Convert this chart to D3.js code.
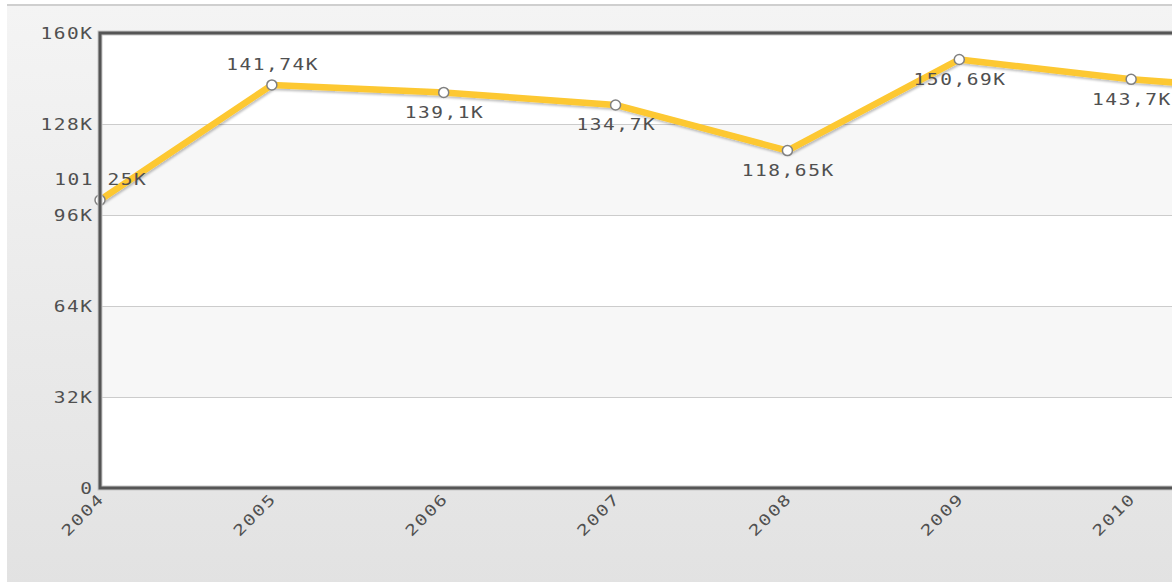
<!DOCTYPE html>
<html><head><meta charset="utf-8">
<script src="https://cdn.jsdelivr.net/npm/d3@7"></script>
<style>
html,body{margin:0;padding:0;background:#fff;overflow:hidden;}
svg{display:block;}
</style></head>
<body>
<svg id="chart" width="1172" height="582"></svg>
<script>
const years = ["2004","2005","2006","2007","2008","2009","2010","2011"];
const values = [101250, 141740, 139100, 134700, 118650, 150690, 143700, 139300];
const valueLabels = ["101,25K","141,74K","139,1K","134,7K","118,65K","150,69K","143,7K","139,3K"];
const yTicks = [0, 32000, 64000, 96000, 128000, 160000];
const yTickLabels = ["0","32K","64K","96K","128K","160K"];

const W = 1172, H = 582;
const plot = {left: 100, top: 33, bottom: 488, right: 1303};
const svg = d3.select("#chart");
const defs = svg.append("defs");

const bg = defs.append("linearGradient").attr("id","bg").attr("x1",0).attr("y1",0).attr("x2",0).attr("y2",1);
bg.append("stop").attr("offset","0%").attr("stop-color","#f4f4f4");
bg.append("stop").attr("offset","100%").attr("stop-color","#e2e2e2");

const sh = defs.append("filter").attr("id","sh").attr("x","-10%").attr("y","-10%").attr("width","120%").attr("height","130%");
sh.append("feDropShadow").attr("dx",1).attr("dy",2).attr("stdDeviation",1.2).attr("flood-color","#000").attr("flood-opacity",0.25);

svg.append("rect").attr("x",7).attr("y",5).attr("width",W).attr("height",H).attr("fill","url(#bg)");
svg.append("rect").attr("x",7).attr("y",4).attr("width",W).attr("height",2).attr("fill","#cfcfcf");

const x = d3.scalePoint().domain(years).range([plot.left, plot.right]);
const y = d3.scaleLinear().domain([0, 160000]).range([plot.bottom, plot.top]);

// plot background bands
const bands = d3.pairs(yTicks);
svg.append("g").selectAll("rect").data(bands).join("rect")
  .attr("x", plot.left).attr("width", plot.right - plot.left + 200)
  .attr("y", d => y(d[1])).attr("height", d => y(d[0]) - y(d[1]))
  .attr("fill", (d,i) => i % 2 === 1 ? "#f7f7f7" : "#ffffff");

// gridlines
svg.append("g").selectAll("line").data(yTicks.slice(1, -1)).join("line")
  .attr("x1", plot.left).attr("x2", W).attr("y1", d => Math.round(y(d)) + 0.5).attr("y2", d => Math.round(y(d)) + 0.5)
  .attr("stroke", "#cccccc").attr("stroke-width", 1);

const fontFam = "'DejaVu Sans Mono', monospace";
const sx = 1.3, ls = 1.2;
function styled(sel) {
  return sel.attr("font-family", fontFam).attr("font-size", 15).attr("fill", "#505050")
    .attr("letter-spacing", ls);
}

// y axis labels
const yAxis = d3.axisLeft(y).tickValues(yTicks).tickFormat((d,i) => yTickLabels[i]).tickSize(0).tickPadding(0);
const yg = svg.append("g").attr("transform", `translate(${plot.left - 8},0)`).call(yAxis);
yg.select(".domain").remove();
yg.selectAll(".tick text").each(function(d) {
  const t = d3.select(this);
  t.attr("x", ls).attr("dy", null).attr("text-anchor", "end").attr("dominant-baseline", "central")
   .attr("transform", `scale(${sx},1)`);
  styled(t);
});

// x axis labels
const xAxis = d3.axisBottom(x).tickSize(0).tickPadding(0);
const xg = svg.append("g").attr("transform", `translate(0,${plot.bottom + 9})`).call(xAxis);
xg.select(".domain").remove();
xg.selectAll(".tick text").each(function() {
  const t = d3.select(this);
  t.attr("y", null).attr("dy", null).attr("x", ls).attr("text-anchor", "end").attr("dominant-baseline", "central")
   .attr("transform", `rotate(-45) scale(${sx},1)`);
  styled(t);
});

// line
const pts = years.map((yr, i) => ({yr, v: values[i], lab: valueLabels[i], i}));
const line = d3.line().x(d => x(d.yr)).y(d => y(d.v));
svg.append("path").datum(pts).attr("d", line).attr("fill", "none")
  .attr("stroke", "#fdc830").attr("stroke-width", 6.5).attr("stroke-linejoin", "round").attr("filter", "url(#sh)");

// markers
svg.append("g").selectAll("circle").data(pts).join("circle")
  .attr("cx", d => x(d.yr)).attr("cy", d => y(d.v)).attr("r", 5)
  .attr("fill", "#ffffff").attr("stroke", "#808080").attr("stroke-width", 1.5);

// value labels
svg.append("g").selectAll("text").data(pts).join("text")
  .each(function(d) {
    const py = y(d.v);
    const rising = d.i === 0 || d.v > values[d.i - 1];
    const above = rising && (py - 28 > plot.top);
    const ty = above ? py - 20 : py + 20;
    const t = d3.select(this);
    t.attr("transform", `translate(${x(d.yr)},${ty}) scale(${sx},1)`)
     .attr("x", ls / 2)
     .attr("text-anchor", "middle").attr("dominant-baseline", "central").text(d.lab);
    styled(t);
  });

// frame
const frame = svg.append("g");
frame.append("path")
  .attr("d", `M${W+5},${plot.top} H${plot.left} V${plot.bottom} H${W+5}`)
  .attr("fill", "none").attr("stroke", "#c8c8c8").attr("stroke-width", 5);
frame.append("path")
  .attr("d", `M${W+5},${plot.top} H${plot.left} V${plot.bottom} H${W+5}`)
  .attr("fill", "none").attr("stroke", "#555555").attr("stroke-width", 3);
</script>
</body></html>
